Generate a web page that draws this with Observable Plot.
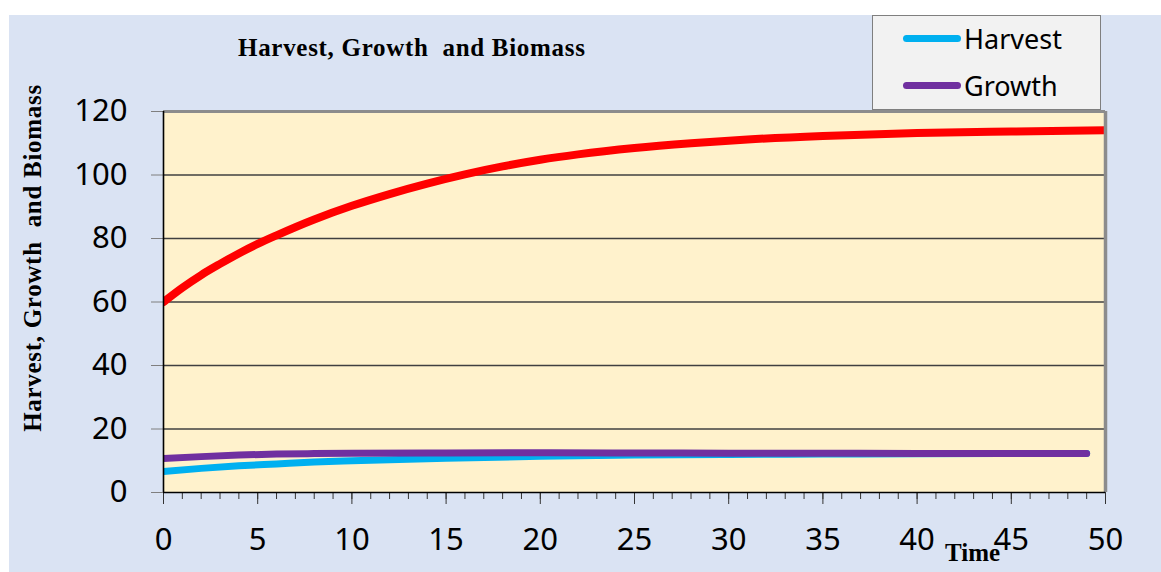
<!DOCTYPE html>
<html>
<head>
<meta charset="utf-8">
<script src="https://cdn.jsdelivr.net/npm/d3@7"></script>
<script src="https://cdn.jsdelivr.net/npm/@observablehq/plot@0.6"></script>
<style>
  html, body { margin: 0; padding: 0; background: #ffffff; }
  #wrap { position: relative; width: 1161px; height: 572px; overflow: hidden; }
  #bg { position: absolute; left: 9px; top: 15px; width: 1152px; height: 557px; background: #dae3f3; }
  #chart { position: absolute; left: 0; top: 0; }
  .serif { position: absolute; font-family: "Liberation Serif", "DejaVu Serif", serif; font-weight: bold; color: #000; white-space: pre; line-height: 1.15; }
  #title { left: 238px; top: 34px; font-size: 25px; letter-spacing: 0.7px; }
  #ylab { left: 33px; top: 258px; font-size: 25px; letter-spacing: 0.7px; transform: translate(-50%, -50%) rotate(-90deg); }
  #xlab { left: 945px; top: 539px; font-size: 25px; }
  #legend { position: absolute; left: 872px; top: 15px; width: 229px; height: 95px; background: #f2f2f2; border: 1px solid #7f7f7f; box-sizing: border-box; }
  .item { position: absolute; left: 30px; height: 40px; display: flex; align-items: center; font-family: "Noto Sans", sans-serif; font-size: 27px; color: #000; }
  .sw { width: 58px; height: 7px; border-radius: 4px; margin-right: 3px; }
</style>
</head>
<body>
<div id="wrap">
  <div id="bg"></div>
  <div id="chart"></div>
  <div id="title" class="serif">Harvest, Growth  and Biomass</div>
  <div id="ylab" class="serif">Harvest, Growth  and Biomass</div>
  <div id="xlab" class="serif">Time</div>
  <div id="legend"></div>
</div>
<script>
// ---- data ----
const biomassTime = [0, 1, 2, 3, 4, 5, 6, 8, 10, 12, 14, 16, 18, 20, 22, 25, 28, 31, 35, 40, 45, 50];
const biomass = [60, 64.5, 68.5, 72, 75.3, 78.3, 81, 86, 90.3, 94, 97.3, 100.2, 102.7, 104.8, 106.5, 108.5, 110, 111.2, 112.3, 113.2, 113.7, 114.1];

const flowTime = [0, 2, 4, 6, 8, 10, 15, 20, 25, 30, 35, 40, 45, 49];
const harvest = [6.6, 7.6, 8.4, 9.0, 9.6, 10.0, 10.8, 11.4, 11.8, 12.0, 12.1, 12.2, 12.25, 12.3];
const growth = [10.7, 11.3, 11.8, 12.1, 12.25, 12.35, 12.45, 12.5, 12.45, 12.4, 12.35, 12.3, 12.3, 12.3];

const yTicks = [0, 20, 40, 60, 80, 100, 120];
const gridLines = [20, 40, 60, 80, 100];
const xTicks = [0, 5, 10, 15, 20, 25, 30, 35, 40, 45, 50];
const xMinor = [0,1,2,3,4,5,6,7,8,9,10,11,12,13,14,15,16,17,18,19,20,21,22,23,24,25,26,27,28,29,30,31,32,33,34,35,36,37,38,39,40,41,42,43,44,45,46,47,48,49,50];

const legendItems = [
  {name: "Harvest", color: "#00b0f0"},
  {name: "Growth", color: "#7030a0"}
];

const bioData = biomassTime.map((t, i) => ({t, v: biomass[i]}));
const harvData = flowTime.map((t, i) => ({t, v: harvest[i]}));
const growData = flowTime.map((t, i) => ({t, v: growth[i]}));

const chart = Plot.plot({
  width: 1161,
  height: 572,
  marginLeft: 163,
  marginRight: 56,
  marginTop: 111,
  marginBottom: 80,
  style: {background: "transparent", fontFamily: "Noto Sans", color: "#000", overflow: "visible"},
  x: {domain: [0, 50]},
  y: {domain: [0, 120]},
  marks: [
    Plot.frame({fill: "#fff2cc", stroke: null}),
    Plot.ruleY(gridLines, {stroke: "#404040", strokeWidth: 1.4}),
    Plot.axisY({ticks: yTicks, tickSize: 12, tickPadding: 24, fontSize: 31, stroke: "#7f7f7f", label: null}),
    Plot.axisX({ticks: xMinor, tickSize: 7, tickFormat: () => "", stroke: "#333", label: null}),
    Plot.axisX({ticks: xTicks, tickSize: 12, tickPadding: 23, fontSize: 31, stroke: "#333", label: null}),
    Plot.line(bioData, {x: "t", y: "v", stroke: "#ff0000", strokeWidth: 8, curve: "monotone-x", clip: true}),
    Plot.line(harvData, {x: "t", y: "v", stroke: "#00b0f0", strokeWidth: 7, strokeLinecap: "round", curve: "monotone-x", clip: true}),
    Plot.line(growData, {x: "t", y: "v", stroke: "#7030a0", strokeWidth: 7, strokeLinecap: "round", curve: "monotone-x", clip: true}),
    Plot.ruleY([120], {stroke: "#8c8c8c", strokeWidth: 3}),
    Plot.ruleX([50], {stroke: "#8c8c8c", strokeWidth: 3.5}),
    Plot.ruleX([0], {stroke: "#000", strokeWidth: 1.6}),
    Plot.ruleY([0], {stroke: "#000", strokeWidth: 1.6})
  ]
});
document.getElementById("chart").appendChild(chart);

const leg = document.getElementById("legend");
legendItems.forEach((d, i) => {
  const it = document.createElement("div");
  it.className = "item";
  it.style.top = (2 + i * 47) + "px";
  const sw = document.createElement("div");
  sw.className = "sw";
  sw.style.background = d.color;
  const tx = document.createElement("span");
  tx.textContent = d.name;
  it.appendChild(sw);
  it.appendChild(tx);
  leg.appendChild(it);
});
</script>
</body>
</html>
